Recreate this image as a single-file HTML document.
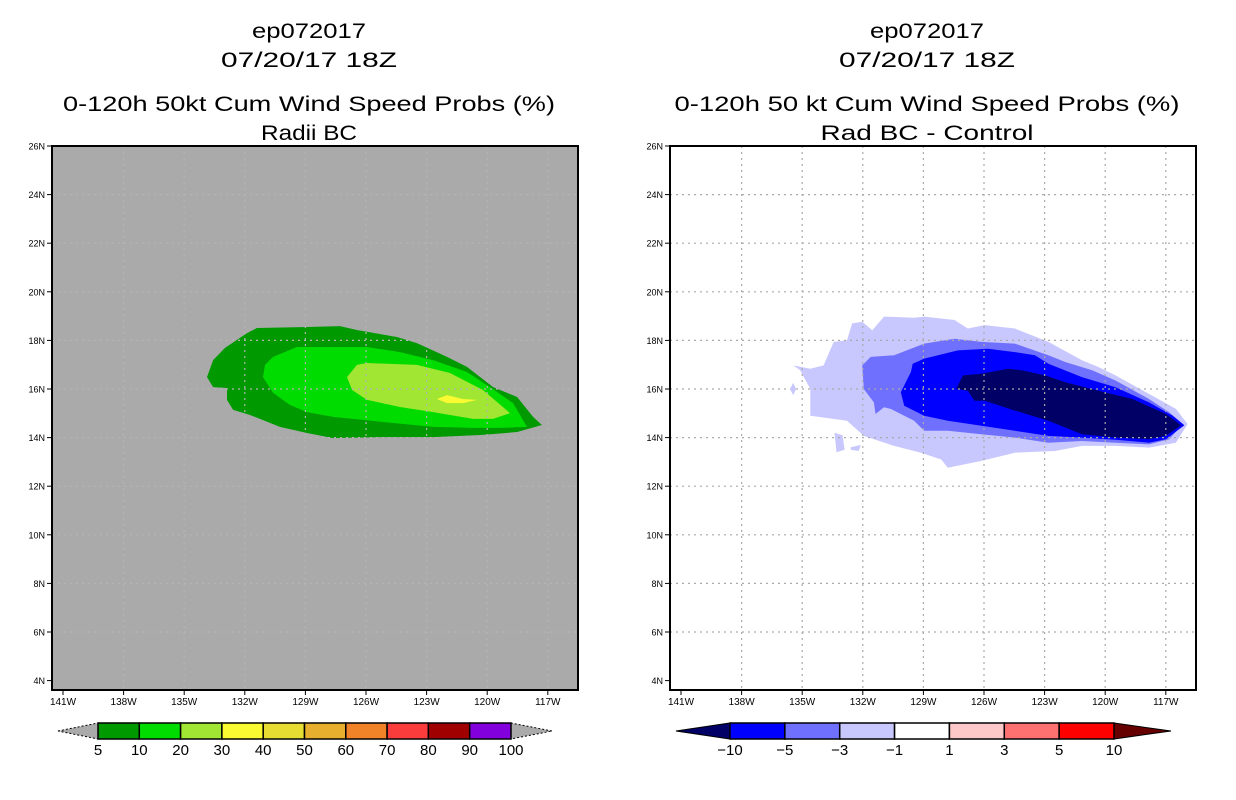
<!DOCTYPE html>
<html><head><meta charset="utf-8"><style>
body{margin:0;background:#fff;width:1236px;height:800px;overflow:hidden}
svg{display:block;font-family:"Liberation Sans",sans-serif}
</style></head><body>
<svg id="c" width="1236" height="800"></svg>
<script>
const lonTicks=[-141,-138,-135,-132,-129,-126,-123,-120,-117];
const latTicks=[4,6,8,10,12,14,16,18,20,22,24,26];
const leftLevels=["5","10","20","30","40","50","60","70","80","90","100"];
const leftColors=["#009900","#00dc00","#a0e632","#fafa32","#e6dc32","#e6af2d","#f08228","#fa3c3c","#a00000","#8200dc"];
const rightLevels=["\u221210","\u22125","\u22123","\u22121","1","3","5","10"];
const rightColors=["#0000ff","#7070ff","#c8c8ff","#ffffff","#ffc8c8","#ff7070","#ff0000"];
const p5=[[-133.87,16.49],[-133.57,17.19],[-132.98,17.69],[-131.89,18.30],[-131.40,18.51],[-128.92,18.55],[-127.29,18.59],[-126.45,18.43],[-124.47,18.14],[-123.48,17.89],[-121.99,17.32],[-121.0,16.91],[-119.71,16.08],[-118.52,15.67],[-117.73,14.85],[-117.29,14.52],[-118.52,14.23],[-120.21,14.11],[-122.68,14.02],[-125.16,14.02],[-127.63,13.98],[-128.92,14.19],[-130.26,14.44],[-131.74,14.93],[-132.58,15.14],[-132.88,15.55],[-132.88,16.04],[-133.57,16.08]];
const p10=[[-131.0,16.99],[-130.6,17.32],[-129.42,17.73],[-125.95,17.73],[-124.32,17.52],[-122.68,17.19],[-121.0,16.70],[-119.86,16.08],[-118.72,15.42],[-118.03,14.44],[-119.37,14.40],[-120.70,14.40],[-122.68,14.44],[-125.16,14.64],[-127.63,14.85],[-128.92,15.05],[-129.76,15.34],[-130.60,15.84],[-131.10,16.49]];
const p20=[[-126.94,16.49],[-126.45,16.99],[-125.95,17.07],[-123.48,16.99],[-121.84,16.66],[-120.21,15.96],[-118.87,15.01],[-119.71,14.77],[-120.70,14.77],[-122.68,15.05],[-124.32,15.26],[-125.95,15.55],[-126.69,15.96]];
const p30=[[-122.49,15.59],[-121.99,15.75],[-121.20,15.59],[-120.50,15.55],[-121.20,15.42],[-121.99,15.42]];
const d1=[[-135.44,16.97],[-134.60,16.83],[-133.94,16.97],[-133.44,17.94],[-132.78,18.01],[-132.53,18.70],[-132.03,18.77],[-131.53,18.42],[-130.95,18.98],[-129.46,18.93],[-128.96,18.98],[-127.46,18.84],[-126.80,18.49],[-125.97,18.63],[-124.47,18.49],[-122.81,17.94],[-121.15,17.18],[-120.32,16.90],[-119.49,16.56],[-117.83,15.80],[-116.50,15.18],[-115.92,14.56],[-116.50,13.79],[-117.83,13.59],[-119.49,13.66],[-121.15,13.66],[-122.48,13.45],[-124.47,13.38],[-126.13,13.04],[-127.79,12.76],[-128.12,13.10],[-129.12,13.38],[-130.45,13.66],[-131.95,14.07],[-132.78,14.69],[-134.60,14.90],[-134.60,16.00],[-135.10,16.77]];
const d1b=[[-133.4,14.2],[-133.0,14.1],[-132.9,13.5],[-133.3,13.4]];
const d1c=[[-132.6,13.6],[-132.1,13.7],[-132.2,13.45],[-132.6,13.5]];
const d3=[[-132.03,16.97],[-131.61,17.32],[-130.45,17.39],[-128.96,17.87],[-127.46,18.07],[-126.13,17.94],[-124.47,17.87],[-122.81,17.39],[-121.98,17.11],[-120.65,16.77],[-119.49,16.35],[-117.83,15.59],[-116.83,15.04],[-116.16,14.56],[-116.83,13.93],[-117.83,13.72],[-119.49,13.79],[-121.15,13.86],[-122.81,13.79],[-124.47,14.00],[-126.13,14.14],[-127.79,14.28],[-128.96,14.28],[-129.46,14.69],[-130.62,15.18],[-130.95,15.25],[-131.37,14.97],[-131.45,15.45],[-131.95,16.00]];
const d5=[[-129.53,17.04],[-128.96,17.25],[-127.29,17.59],[-125.80,17.66],[-124.47,17.52],[-123.48,17.39],[-122.81,17.04],[-121.15,16.49],[-119.49,16.07],[-117.83,15.45],[-116.66,14.90],[-116.08,14.51],[-117.00,13.93],[-117.83,13.79],[-119.49,13.91],[-121.15,14.00],[-122.81,14.07],[-124.47,14.28],[-126.13,14.49],[-127.79,14.69],[-128.96,14.90],[-129.95,15.31],[-130.12,15.87],[-129.62,16.70]];
const d10=[[-127.38,16.00],[-127.04,16.56],[-126.13,16.63],[-124.80,16.83],[-124.14,16.77],[-122.98,16.56],[-121.98,16.28],[-120.32,15.93],[-118.65,15.59],[-116.99,14.97],[-116.25,14.51],[-116.99,14.07],[-117.83,13.93],[-119.49,14.00],[-121.15,14.14],[-122.81,14.69],[-124.47,15.11],[-125.97,15.52],[-126.47,15.52],[-126.80,15.93]];

const NS="http://www.w3.org/2000/svg";
const svg=document.getElementById('c');
function el(t,a,p){const e=document.createElementNS(NS,t);for(const k in a)e.setAttribute(k,a[k]);(p||svg).appendChild(e);return e;}
function xs(off,lon){return off+63+(lon+141)*20.2;}
function ys(lat){return 146+(26-lat)*24.3;}
function poly(off,pts,fill,name,g){
  const e=el('polygon',{points:pts.map(p=>xs(off,p[0]).toFixed(1)+','+ys(p[1]).toFixed(1)).join(' '),fill:fill},g);
  
  
}
function text(x,y,s,size,anchor,name,len){
  const t=el('text',{x:x,y:y,'font-size':size,'text-anchor':anchor||'middle',fill:'#000'});
  if(len){t.setAttribute('textLength',len);t.setAttribute('lengthAdjust','spacingAndGlyphs');}
  t.textContent=s;
  
  
  return t;
}
function panel(off,bg,title2,title4,len2,len4,shapes,gridCol,name){
  const g=el('g',{});
  
  
  const cx=off+309;
  text(cx,38,'ep072017',21,'middle','title-storm-id',114);
  text(cx,67,'07/20/17 18Z',21,'middle','title-date',176);
  text(cx,111,title2,21,'middle','title-product',len2);
  text(cx,140,title4,21,'middle','title-subtitle',len4);
  const bgR=el('rect',{x:off+52,y:146,width:526,height:544,fill:bg},g);
  
  
  shapes.forEach(s=>poly(off,s[0],s[1],s[2],g));
  lonTicks.forEach(l=>{
    const x=xs(off,l);
    if(l>-141){const gl=el('line',{x1:x,y1:146,x2:x,y2:690,stroke:gridCol,'stroke-width':1.2,'stroke-dasharray':'2,4'},g);
    }
    el('line',{x1:x,y1:690,x2:x,y2:695,stroke:'#000'},g);
    text(x,705,(-l)+'W',10,'middle','x-tick-label');
  });
  latTicks.forEach(l=>{
    const y=ys(l);
    if(l>4&&l<26){const gl=el('line',{x1:off+52,y1:y,x2:off+578,y2:y,stroke:gridCol,'stroke-width':1.2,'stroke-dasharray':'2,4'},g);
    }
    el('line',{x1:off+47,y1:y,x2:off+52,y2:y,stroke:'#000'},g);
    text(off+45,y+3.5,l+'N',9,'end','y-tick-label');
  });
  const fr=el('rect',{x:off+52,y:146,width:526,height:544,fill:'none',stroke:'#000','stroke-width':2},g);
  
  
}
panel(0,'#aaaaaa','0-120h 50kt Cum Wind Speed Probs (%)','Radii BC',492,96,
 [[p5,'#009900','contour-5pct'],[p10,'#00dc00','contour-10pct'],[p20,'#a0e632','contour-20pct'],[p30,'#fafa32','contour-30pct']],'#b4b4b4','left-panel');
panel(618,'#ffffff','0-120h 50 kt Cum Wind Speed Probs (%)','Rad BC - Control',505,213,
 [[d1,'#c8c8ff','contour-minus1'],[d1b,'#c8c8ff','contour-minus1-blob'],[d1c,'#c8c8ff','contour-minus1-blob'],[d3,'#7070ff','contour-minus3'],[d5,'#0000ff','contour-minus5'],[d10,'#000066','contour-minus10']],'#aaaaaa','right-panel');
const mk=el('polygon',{points:[[-135.6,16.0],[-135.45,16.25],[-135.3,16.0],[-135.45,15.75]].map(p=>xs(618,p[0])+','+ys(p[1])).join(' '),fill:'#c8c8ff'});



function colorbar(x0,x1,tipL,tipR,colors,labels,cL,cR,name){
  const g=el('g',{});
  
  
  const y0=723,y1=739,ym=731,w=(x1-x0)/colors.length;
  el('polygon',{points:`${tipL},${ym} ${x0},${y0} ${x0},${y1}`,fill:cL,stroke:'#000','stroke-width':1,'stroke-dasharray':cL=='#aaaaaa'?'2,2':'none'},g);
  el('polygon',{points:`${tipR},${ym} ${x1},${y0} ${x1},${y1}`,fill:cR,stroke:'#000','stroke-width':1,'stroke-dasharray':cR=='#aaaaaa'?'2,2':'none'},g);
  colors.forEach((c,i)=>{
    const r=el('rect',{x:x0+i*w,y:y0,width:w,height:y1-y0,fill:c,stroke:'#000','stroke-width':1.5},g);
    
    
  });
  labels.forEach((s,i)=>{text(x0+i*w,755,s,15,'middle','colorbar-label');});
}
colorbar(98,511,58,552,leftColors,leftLevels,'#aaaaaa','#aaaaaa','left-colorbar');
colorbar(730,1114,676,1171,rightColors,rightLevels,'#000066','#660000','right-colorbar');
</script>
</body></html>
